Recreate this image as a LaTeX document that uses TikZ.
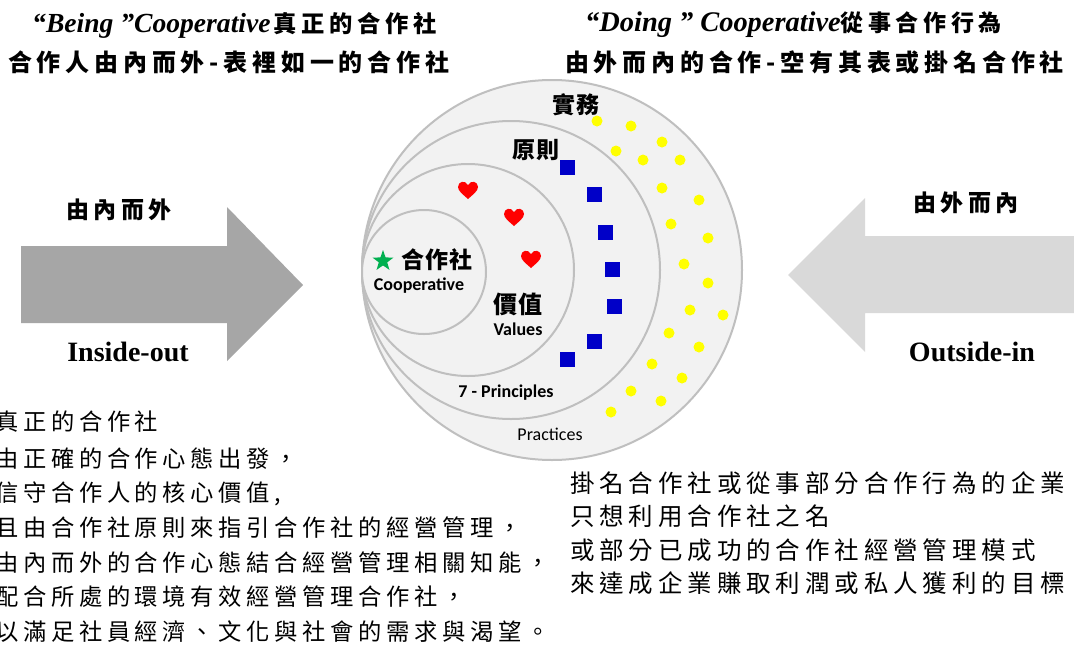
\documentclass[tikz,border=0pt]{standalone}
\usepackage{fontspec}
\setmainfont{Liberation Serif}
\newfontfamily\cjk{Noto Sans CJK TC}[LetterSpace=20]
\newfontfamily\cjklab{Noto Sans CJK TC}[LetterSpace=5]
\newfontfamily\calibrifont{Carlito}
\usetikzlibrary{shapes.geometric}
\definecolor{ringfill}{HTML}{F2F2F2}
\definecolor{ringline}{HTML}{BFBFBF}
\definecolor{arrowdark}{HTML}{A6A6A6}
\definecolor{arrowlight}{HTML}{D9D9D9}
\definecolor{stargreen}{HTML}{00B050}
\definecolor{sqblue}{HTML}{0000C8}
\definecolor{dotyellow}{HTML}{FFFF00}
\definecolor{heartred}{HTML}{FF0000}
\tikzset{
  ring/.style={circle, draw=ringline, fill=ringfill, line width=2pt, inner sep=0pt},
  sq/.style={rectangle, fill=sqblue, minimum size=15pt, inner sep=0pt},
  dot/.style={circle, fill=dotyellow, minimum size=11pt, inner sep=0pt},
  heart/.pic={\fill[heartred] (0pt,-9pt) .. controls (-5pt,-4.5pt) and (-10pt,-1pt) .. (-10pt,3pt)
      .. controls (-10pt,8.5pt) and (-3pt,10.5pt) .. (0pt,5pt)
      .. controls (3pt,10.5pt) and (10pt,8.5pt) .. (10pt,3pt)
      .. controls (10pt,-1pt) and (5pt,-4.5pt) .. (0pt,-9pt) -- cycle;},
  title/.style={anchor=west, inner sep=0pt},
  body/.style={anchor=west, inner sep=0pt, font=\cjk\fontsize{23.3}{26}\selectfont},
  rbody/.style={anchor=west, inner sep=0pt, font=\cjk\fontsize{24.5}{27}\selectfont},
  lab/.style={inner sep=0pt, font=\cjklab\bfseries\fontsize{23}{26}\selectfont},
  eng/.style={inner sep=0pt, font=\calibrifont\bfseries\fontsize{18}{22}\selectfont},
  arrowlab/.style={inner sep=0pt, font=\cjk\bfseries\fontsize{23}{26}\selectfont},
  arroweng/.style={inner sep=0pt, font=\bfseries\fontsize{28}{32}\selectfont}
}
\begin{document}
\begin{tikzpicture}[x=1pt,y=-1pt]
\useasboundingbox (0,0) rectangle (1074,646);
\fill[white] (0,0) rectangle (1074,646);
% titles
\node[title] (t1) at (32,25) {{\bfseries\itshape\fontsize{27.6}{30}\selectfont “Being ”Cooperative}\hspace{3pt}{\cjk\bfseries\fontsize{23.3}{30}\selectfont 真正的合作社}};
\node[title, font=\cjk\bfseries\fontsize{24}{26}\selectfont] (t2) at (8,62) {合作人由內而外-表裡如一的合作社};
\node[title] (t3) at (585,25) {{\bfseries\itshape\fontsize{28.4}{30}\selectfont “Doing ” Cooperative}{\cjk\bfseries\fontsize{23}{30}\selectfont 從事合作行為}};
\node[title, font=\cjk\bfseries\fontsize{24}{26}\selectfont] (t4) at (565,62) {由外而內的合作-空有其表或掛名合作社};
% arrows
\fill[arrowdark] (21,246) -- (227,246) -- (227,207) -- (303,285) -- (227,361) -- (227,323) -- (21,323) -- cycle;
\fill[arrowlight] (1074,236) -- (865,236) -- (865,198) -- (788,275) -- (865,352) -- (865,313) -- (1074,313) -- cycle;
\node[arrowlab] (a1) at (119,210) {由內而外};
\node[arroweng] (a2) at (128,352) {Inside-out};
\node[arrowlab] (a3) at (966,203) {由外而內};
\node[arroweng] (a4) at (972,352) {Outside-in};
% rings
\node[ring, minimum size=380pt] (practice) at (552,270) {};
\node[ring, minimum size=298pt] (principle) at (511,270) {};
\node[ring, minimum size=212pt] (value) at (468,270) {};
\node[ring, minimum size=124pt] (core) at (424,272) {};
% hearts
\pic at (468,190) {heart};
\pic at (514,217) {heart};
\pic at (531,259) {heart};
% squares
\node[sq] (s1) at (567,167) {};
\node[sq] (s2) at (594,194) {};
\node[sq] (s3) at (605,232) {};
\node[sq] (s4) at (612,269) {};
\node[sq] (s5) at (614,306) {};
\node[sq] (s6) at (594,341) {};
\node[sq] (s7) at (567,359) {};
% dots
\foreach \x/\y [count=\i] in {597/121,631/126,662/142,616/151,643/160,680/160,662/188,699/200,671/224,708/238,684/264,708/283,690/310,723/315,669/333,699/347,652/364,682/378,631/391,661/401,611/412}
  \node[dot] (d\i) at (\x,\y) {};
% ring labels
\node[lab] (shiwu) at (576,105) {實務};
\node[lab] (yuanze) at (536,150) {原則};
\node[star, star points=5, star point ratio=2.5, fill=stargreen, minimum size=22pt, inner sep=0pt] (star) at (383,261) {};
\node[lab] (coopzh) at (437,260) {合作社};
\node[eng] (coopen) at (419,286) {Cooperative};
\node[lab, font=\cjklab\bfseries\fontsize{24}{26}\selectfont] (jiazhi) at (518,304) {價值};
\node[eng] (valen) at (518,329) {Values};
\node[eng] (prin) at (506,393) {7 - Principles};
\node[inner sep=0pt, font=\calibrifont\fontsize{18}{22}\selectfont] (prac) at (550,434) {Practices};
% left body
\node[body] (L1) at (-5,422) {真正的合作社};
\node[body] (L2) at (-5,459) {由正確的合作心態出發，};
\node[body] (L3) at (-5,494) {信守合作人的核心價值,};
\node[body] (L4) at (-5,528) {且由合作社原則來指引合作社的經營管理，};
\node[body] (L5) at (-5,563) {由內而外的合作心態結合經營管理相關知能，};
\node[body] (L6) at (-5,597) {配合所處的環境有效經營管理合作社，};
\node[body] (L7) at (-5,632) {以滿足社員經濟、文化與社會的需求與渴望。};
% right body
\node[rbody] (R1) at (570,483) {掛名合作社或從事部分合作行為的企業，};
\node[rbody] (R2) at (570,516) {只想利用合作社之名};
\node[rbody] (R3) at (570,550) {或部分已成功的合作社經營管理模式};
\node[rbody] (R4) at (570,583) {來達成企業賺取利潤或私人獲利的目標。};
\end{tikzpicture}
\end{document}
